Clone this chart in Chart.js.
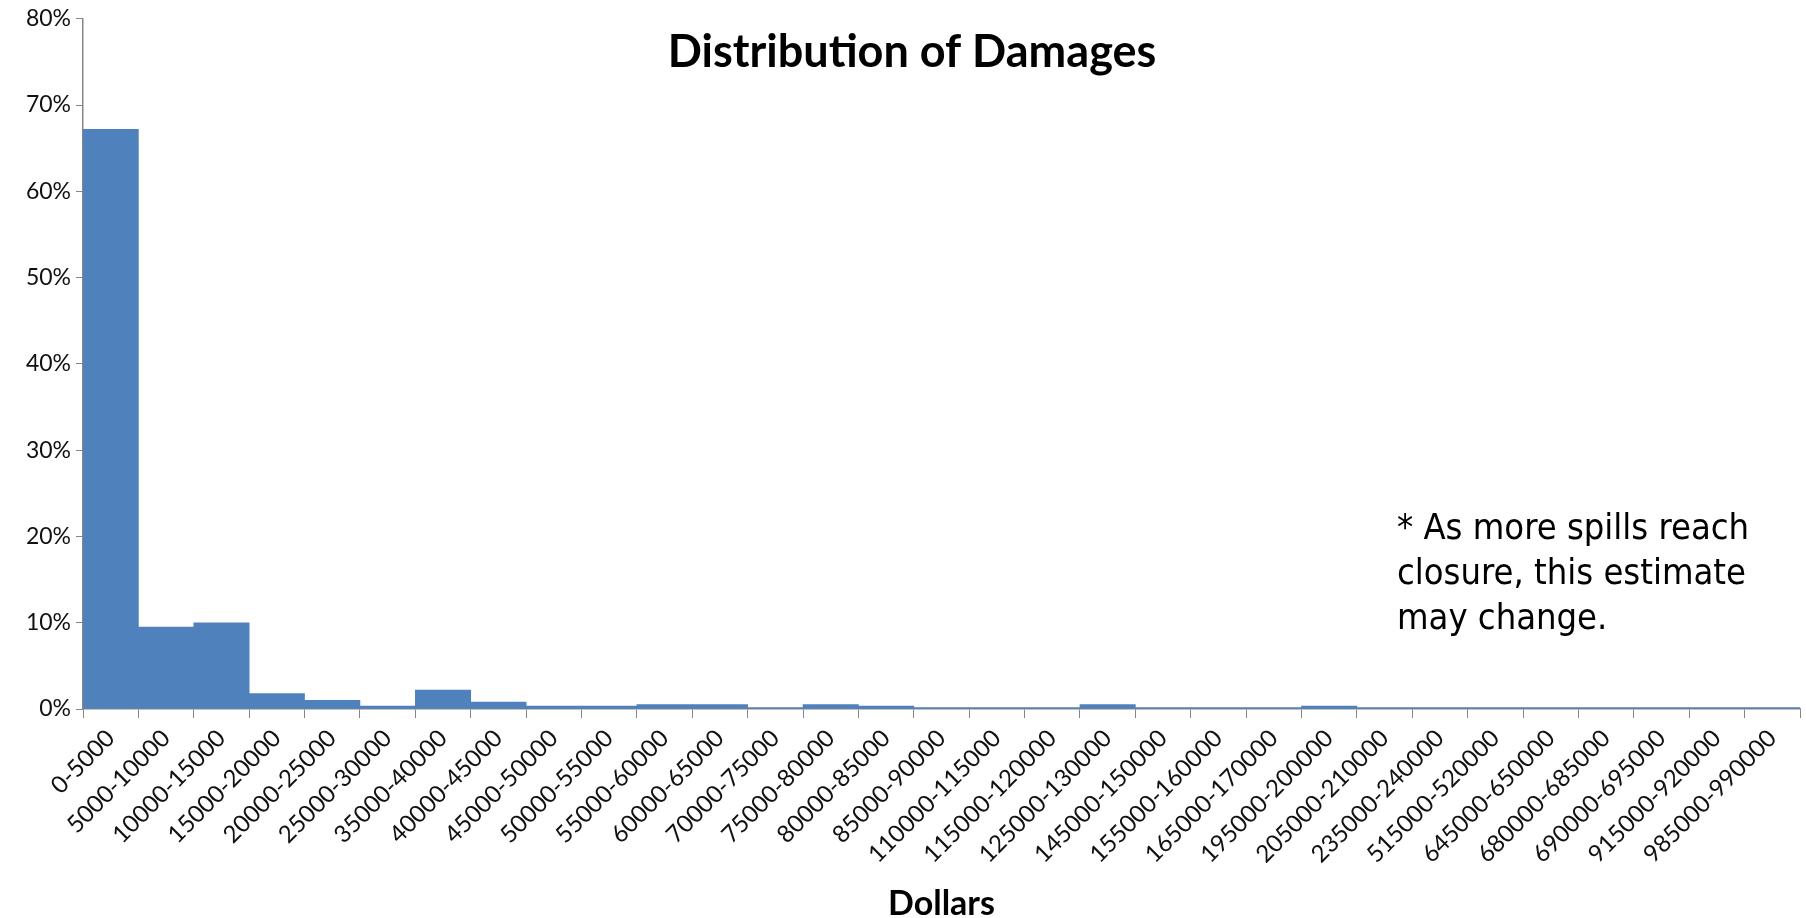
<!DOCTYPE html>
<html>
<head>
<meta charset="utf-8">
<script src="https://cdn.jsdelivr.net/npm/chart.js@4"></script>
<style>
  html, body { margin: 0; padding: 0; background: #fff; }
  #wrap { width: 1806px; height: 918px; position: relative; }
</style>
</head>
<body>
<div id="wrap"><canvas id="c" width="1806" height="918"></canvas></div>
<script>
const categories = [
  "0-5000", "5000-10000", "10000-15000", "15000-20000", "20000-25000", "25000-30000",
  "35000-40000", "40000-45000", "45000-50000", "50000-55000", "55000-60000", "60000-65000",
  "70000-75000", "75000-80000", "80000-85000", "85000-90000", "110000-115000", "115000-120000",
  "125000-130000", "145000-150000", "155000-160000", "165000-170000", "195000-200000",
  "205000-210000", "235000-240000", "515000-520000", "645000-650000", "680000-685000",
  "690000-695000", "915000-920000", "985000-990000"
];
const sharePercent = [
  67.2, 9.5, 10.0, 1.8, 1.0, 0.33,
  2.2, 0.8, 0.33, 0.33, 0.5, 0.5,
  0.17, 0.5, 0.33, 0.17, 0.17, 0.17,
  0.5, 0.17, 0.17, 0.17, 0.33,
  0.17, 0.17, 0.17, 0.17, 0.17,
  0.17, 0.17, 0.17
];
const yTicks = [0, 10, 20, 30, 40, 50, 60, 70, 80];
const titleText = "Distribution of Damages";
const xTitleText = "Dollars";
const noteLines = ["* As more spills reach", "closure, this estimate", "may change."];

const overlayText = {
  id: 'overlayText',
  afterDraw(chart) {
    const ctx = chart.ctx;
    ctx.save();
    ctx.fillStyle = '#000';
    ctx.textAlign = 'center';
    ctx.textBaseline = 'alphabetic';
    ctx.font = 'bold 45px Lato, "Open Sans", sans-serif';
    ctx.fillText(titleText, 912, 67);
    ctx.textAlign = 'left';
    ctx.font = '36px "DejaVu Sans Condensed", "DejaVu Sans", sans-serif';
    const base = [539, 584, 629];
    noteLines.forEach((t, i) => ctx.fillText(t, 1397, base[i]));
    ctx.restore();
  }
};

const axisGrey = '#868686';
new Chart(document.getElementById('c'), {
  type: 'bar',
  data: {
    labels: categories,
    datasets: [{
      data: sharePercent,
      backgroundColor: '#4F81BD',
      borderWidth: 0,
      barPercentage: 1,
      categoryPercentage: 1
    }]
  },
  options: {
    responsive: false,
    animation: false,
    devicePixelRatio: 1,
    layout: { padding: { top: 3, right: 6, bottom: 0, left: 0 } },
    plugins: { legend: { display: false }, tooltip: { enabled: false }, title: { display: false } },
    scales: {
      x: {
        grid: { drawOnChartArea: false, drawTicks: true, tickLength: 9, color: axisGrey, offset: true },
        border: { display: true, color: axisGrey, width: 1.5 },
        ticks: {
          autoSkip: false, minRotation: 45, maxRotation: 45,
          color: '#111', padding: 6,
          font: { family: 'Lato, "Open Sans", sans-serif', size: 24 }
        },
        title: {
          display: true, text: xTitleText, color: '#000',
          font: { family: 'Lato, "Open Sans", sans-serif', size: 34, weight: 'bold' },
          padding: { top: 0, bottom: -6 }
        },
        afterFit(scale) { scale.height = 918 - 709; }
      },
      y: {
        min: 0, max: 80,
        afterBuildTicks(scale) { scale.ticks = yTicks.map(v => ({ value: v })); },
        grid: { drawOnChartArea: false, drawTicks: true, tickLength: 7, color: axisGrey },
        border: { display: true, color: axisGrey, width: 1.5 },
        ticks: {
          color: '#111', padding: 5,
          font: { family: 'Lato, "Open Sans", sans-serif', size: 23 },
          callback: v => v + '%'
        },
        afterFit(scale) { scale.width = 83; }
      }
    }
  },
  plugins: [overlayText]
});
</script>
</body>
</html>
